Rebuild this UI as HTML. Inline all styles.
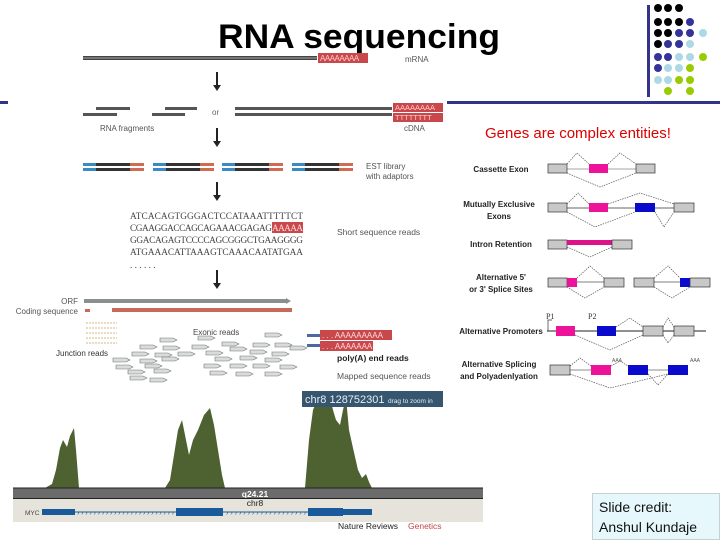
<!DOCTYPE html>
<html><head><meta charset="utf-8"><style>
html,body{margin:0;padding:0;background:#fff;}
svg{display:block;}
</style></head><body>
<svg width="720" height="540" viewBox="0 0 720 540" xmlns="http://www.w3.org/2000/svg" font-family="Liberation Sans, sans-serif">
<defs>
<g id="rd"><polygon points="0,0 13,0 17,2 13,4 0,4" fill="#d8dcdc" stroke="#777" stroke-width="0.6"/></g>
</defs>
<!-- header lines -->
<rect x="0" y="101" width="8" height="3" fill="#333388"/>
<rect x="447" y="101" width="273" height="3" fill="#333388"/>
<rect x="647" y="5" width="3" height="92" fill="#333388"/>
<!-- dots -->
<g>
<circle cx="658" cy="8" r="4" fill="#000"/><circle cx="668" cy="8" r="4" fill="#000"/><circle cx="679" cy="8" r="4" fill="#000"/>
<circle cx="658" cy="22" r="4" fill="#000"/><circle cx="668" cy="22" r="4" fill="#000"/><circle cx="679" cy="22" r="4" fill="#000"/><circle cx="690" cy="22" r="4" fill="#333399"/>
<circle cx="658" cy="33" r="4" fill="#000"/><circle cx="668" cy="33" r="4" fill="#000"/><circle cx="679" cy="33" r="4" fill="#333399"/><circle cx="690" cy="33" r="4" fill="#333399"/><circle cx="703" cy="33" r="4" fill="#add8e6"/>
<circle cx="658" cy="44" r="4" fill="#000"/><circle cx="668" cy="44" r="4" fill="#333399"/><circle cx="679" cy="44" r="4" fill="#333399"/><circle cx="690" cy="44" r="4" fill="#add8e6"/>
<circle cx="658" cy="57" r="4" fill="#333399"/><circle cx="668" cy="57" r="4" fill="#333399"/><circle cx="679" cy="57" r="4" fill="#add8e6"/><circle cx="690" cy="57" r="4" fill="#add8e6"/><circle cx="703" cy="57" r="4" fill="#99cc00"/>
<circle cx="658" cy="68" r="4" fill="#333399"/><circle cx="668" cy="68" r="4" fill="#add8e6"/><circle cx="679" cy="68" r="4" fill="#add8e6"/><circle cx="690" cy="68" r="4" fill="#99cc00"/>
<circle cx="658" cy="80" r="4" fill="#add8e6"/><circle cx="668" cy="80" r="4" fill="#add8e6"/><circle cx="679" cy="80" r="4" fill="#99cc00"/><circle cx="690" cy="80" r="4" fill="#99cc00"/>
<circle cx="668" cy="91" r="4" fill="#99cc00"/><circle cx="690" cy="91" r="4" fill="#99cc00"/>
</g>
<text x="218" y="48" font-size="34" font-weight="bold" fill="#000" textLength="282" lengthAdjust="spacingAndGlyphs">RNA sequencing</text>

<!-- mRNA -->
<rect x="83" y="56" width="234" height="4" fill="#444"/><rect x="83" y="57.5" width="234" height="1" fill="#aaa"/>
<rect x="318" y="53" width="50" height="10" fill="#c8484c"/>
<text x="320" y="61" font-size="8" fill="#fcc" letter-spacing="-0.5">AAAAAAAA</text>
<text x="405" y="62" font-size="8" fill="#555">mRNA</text>
<g fill="#222"><rect x="216" y="72" width="2" height="14"/><polygon points="213,85 221,85 217,91"/></g>
<!-- fragments -->
<g fill="#555">
<rect x="96" y="107" width="34" height="3"/><rect x="83" y="113" width="34" height="3"/>
<rect x="165" y="107" width="32" height="3"/><rect x="152" y="113" width="33" height="3"/>
<rect x="235" y="107" width="157" height="3"/><rect x="235" y="113" width="157" height="3"/>
</g>
<text x="212" y="115" font-size="8" fill="#666">or</text>
<rect x="393" y="103" width="50" height="9" fill="#c8484c"/><rect x="393" y="113" width="50" height="9" fill="#c8484c"/>
<text x="395" y="110" font-size="7.5" fill="#fcc">AAAAAAAA</text><text x="395" y="120" font-size="7.5" fill="#fcc">TTTTTTTT</text>
<text x="100" y="131" font-size="8" fill="#555">RNA fragments</text>
<text x="404" y="131" font-size="8" fill="#555">cDNA</text>
<g fill="#222"><rect x="216" y="128" width="2" height="14"/><polygon points="213,141 221,141 217,147"/></g>
<!-- EST -->
<g>
<g transform="translate(83,0)"><rect x="0" y="163" width="13" height="3" fill="#3a8ac4"/><rect x="0" y="168" width="13" height="3" fill="#3a8ac4"/><rect x="13" y="163" width="34" height="3" fill="#333"/><rect x="13" y="168" width="34" height="3" fill="#333"/><rect x="47" y="163" width="14" height="3" fill="#d06a50"/><rect x="47" y="168" width="14" height="3" fill="#d06a50"/></g>
<g transform="translate(153,0)"><rect x="0" y="163" width="13" height="3" fill="#3a8ac4"/><rect x="0" y="168" width="13" height="3" fill="#3a8ac4"/><rect x="13" y="163" width="34" height="3" fill="#333"/><rect x="13" y="168" width="34" height="3" fill="#333"/><rect x="47" y="163" width="14" height="3" fill="#d06a50"/><rect x="47" y="168" width="14" height="3" fill="#d06a50"/></g>
<g transform="translate(222,0)"><rect x="0" y="163" width="13" height="3" fill="#3a8ac4"/><rect x="0" y="168" width="13" height="3" fill="#3a8ac4"/><rect x="13" y="163" width="34" height="3" fill="#333"/><rect x="13" y="168" width="34" height="3" fill="#333"/><rect x="47" y="163" width="14" height="3" fill="#d06a50"/><rect x="47" y="168" width="14" height="3" fill="#d06a50"/></g>
<g transform="translate(292,0)"><rect x="0" y="163" width="13" height="3" fill="#3a8ac4"/><rect x="0" y="168" width="13" height="3" fill="#3a8ac4"/><rect x="13" y="163" width="34" height="3" fill="#333"/><rect x="13" y="168" width="34" height="3" fill="#333"/><rect x="47" y="163" width="14" height="3" fill="#d06a50"/><rect x="47" y="168" width="14" height="3" fill="#d06a50"/></g>
</g>
<text x="366" y="169" font-size="8" fill="#555">EST library</text>
<text x="366" y="179" font-size="8" fill="#555">with adaptors</text>
<g fill="#222"><rect x="216" y="182" width="2" height="14"/><polygon points="213,195 221,195 217,201"/></g>
<!-- sequences -->
<rect x="272" y="222" width="31" height="11" fill="#c8484c"/>
<g font-family="Liberation Serif, serif" font-size="9.3" fill="#444">
<text x="130" y="219" textLength="173">ATCACAGTGGGACTCCATAAATTTTTCT</text>
<text x="130" y="231" textLength="142">CGAAGGACCAGCAGAAACGAGAG</text>
<text x="272" y="231" fill="#fdd" textLength="31">AAAAA</text>
<text x="130" y="243" textLength="173">GGACAGAGTCCCCAGCGGGCTGAAGGGG</text>
<text x="130" y="255" textLength="173">ATGAAACATTAAAGTCAAACAATATGAA</text>
<text x="130" y="268">. . . . . .</text>
</g>
<text x="337" y="235" font-size="8.5" fill="#555">Short sequence reads</text>
<g fill="#222"><rect x="216" y="270" width="2" height="14"/><polygon points="213,283 221,283 217,289"/></g>
<!-- ORF -->
<rect x="84" y="299" width="204" height="4" fill="#8a9090"/><polygon points="286,298 291,301 286,304" fill="#8a9090"/>
<rect x="85" y="309" width="5" height="3" fill="#c86a5a"/><rect x="112" y="308" width="180" height="4" fill="#c86a5a"/>
<text x="78" y="304" font-size="8" fill="#555" text-anchor="end">ORF</text>
<text x="78" y="314" font-size="8" fill="#555" text-anchor="end">Coding sequence</text>
<!-- junction -->
<g stroke="#c8a060" stroke-width="0.8" fill="none" stroke-dasharray="2,1">
<line x1="86" y1="323" x2="117" y2="323"/><line x1="86" y1="328" x2="117" y2="328"/><line x1="86" y1="333" x2="117" y2="333"/><line x1="86" y1="338" x2="117" y2="338"/><line x1="86" y1="343" x2="117" y2="343"/>
</g>
<text x="56" y="356" font-size="8" fill="#333">Junction reads</text>
<text x="193" y="335" font-size="8" fill="#444">Exonic reads</text>
<g>
<use href="#rd" x="160" y="338"/><use href="#rd" x="198" y="336"/><use href="#rd" x="265" y="333"/><use href="#rd" x="222" y="342"/><use href="#rd" x="253" y="343"/><use href="#rd" x="275" y="343"/>
<use href="#rd" x="140" y="345"/><use href="#rd" x="163" y="346"/><use href="#rd" x="192" y="345"/><use href="#rd" x="230" y="347"/><use href="#rd" x="290" y="346"/>
<use href="#rd" x="132" y="352"/><use href="#rd" x="155" y="353"/><use href="#rd" x="178" y="352"/><use href="#rd" x="206" y="351"/><use href="#rd" x="250" y="350"/><use href="#rd" x="272" y="352"/>
<use href="#rd" x="113" y="358"/><use href="#rd" x="140" y="359"/><use href="#rd" x="162" y="357"/><use href="#rd" x="215" y="357"/><use href="#rd" x="240" y="356"/><use href="#rd" x="265" y="358"/>
<use href="#rd" x="116" y="365"/><use href="#rd" x="145" y="364"/><use href="#rd" x="204" y="364"/><use href="#rd" x="230" y="364"/><use href="#rd" x="253" y="364"/><use href="#rd" x="280" y="365"/>
<use href="#rd" x="128" y="370"/><use href="#rd" x="154" y="369"/><use href="#rd" x="210" y="371"/><use href="#rd" x="236" y="372"/><use href="#rd" x="265" y="372"/>
<use href="#rd" x="130" y="376"/><use href="#rd" x="150" y="378"/>
</g>
<!-- polyA -->
<rect x="307" y="334" width="13" height="3" fill="#4a6aa0"/><rect x="307" y="344" width="13" height="3" fill="#4a6aa0"/>
<rect x="320" y="330" width="72" height="10" fill="#c8484c"/><rect x="320" y="341" width="53" height="10" fill="#c8484c"/>
<text x="322" y="338" font-size="8" fill="#fdd">. . . AAAAAAAAA</text><text x="322" y="349" font-size="8" fill="#fdd">. . . AAAAAAA</text>
<text x="337" y="361" font-size="8.5" fill="#222" font-weight="bold">poly(A) end reads</text>
<text x="337" y="379" font-size="8.5" fill="#555">Mapped sequence reads</text>
<!-- peaks -->
<path fill="#4e6130" d="M45,488 L52,484 L56,470 L60,448 L63,440 L67,447 L70,436 L74,428 L76,450 L79,488 Z
M165,488 L170,480 L174,455 L178,430 L182,420 L186,440 L189,455 L193,440 L198,430 L204,415 L210,408 L214,425 L218,450 L222,475 L225,488 Z
M305,488 L309,440 L313,410 L318,398 L322,394 L326,400 L329,393 L333,410 L336,420 L340,425 L343,410 L346,398 L349,430 L353,448 L358,470 L362,478 L366,474 L369,482 L372,488 Z"/>
<!-- chr box -->
<rect x="302" y="391" width="141" height="16" fill="#35566e"/>
<text x="305" y="403" font-size="11" fill="#e8eef4">chr8 128752301</text>
<text x="388" y="403" font-size="6.5" fill="#e8eef4">drag to zoom in</text>
<rect x="13" y="488" width="470" height="10" fill="#6b6b6b"/>
<rect x="13" y="487.5" width="470" height="1" fill="#222"/>
<text x="255" y="497" font-size="8.5" fill="#fff" font-weight="bold" text-anchor="middle">q24.21</text>
<rect x="13" y="498" width="470" height="24" fill="#e6e4da"/>
<rect x="13" y="498" width="470" height="1" fill="#222"/>
<text x="255" y="506" font-size="8.5" fill="#222" text-anchor="middle">chr8</text>
<text x="25" y="515" font-size="6.5" fill="#444">MYC</text>
<line x1="42" y1="512" x2="372" y2="512" stroke="#1a5a9a" stroke-width="1"/>
<rect x="42" y="509" width="33" height="6" fill="#1a5a9a"/>
<rect x="176" y="508" width="47" height="8" fill="#1a5a9a"/>
<rect x="308" y="508" width="35" height="8" fill="#1a5a9a"/><rect x="343" y="509" width="29" height="6" fill="#1a5a9a"/>
<text x="77" y="515" font-size="7" fill="#1a5a9a" textLength="97">&#8250;&#8250;&#8250;&#8250;&#8250;&#8250;&#8250;&#8250;&#8250;&#8250;&#8250;&#8250;&#8250;&#8250;&#8250;&#8250;&#8250;&#8250;&#8250;&#8250;&#8250;&#8250;&#8250;&#8250;</text>
<text x="226" y="515" font-size="7" fill="#1a5a9a" textLength="80">&#8250;&#8250;&#8250;&#8250;&#8250;&#8250;&#8250;&#8250;&#8250;&#8250;&#8250;&#8250;&#8250;&#8250;&#8250;&#8250;&#8250;&#8250;&#8250;</text>
<text x="338" y="529" font-size="8.5" fill="#222">Nature Reviews</text>
<text x="408" y="529" font-size="8.5" fill="#c0474a">Genetics</text>

<!-- right panel -->
<text x="485" y="138" font-size="15" fill="#dd0000">Genes are complex entities!</text>
<g font-size="8" font-weight="bold" fill="#222" text-anchor="middle">
<text x="501" y="172">Cassette Exon</text>
<text x="499" y="207">Mutually Exclusive</text><text x="499" y="219">Exons</text>
<text x="501" y="247">Intron Retention</text>
<text x="501" y="280">Alternative 5'</text><text x="501" y="292">or 3' Splice Sites</text>
<text x="501" y="334">Alternative Promoters</text>
<text x="499" y="367">Alternative Splicing</text><text x="499" y="379">and Polyadenlyation</text>
</g>
<g stroke="#555" stroke-width="0.7" fill="none">
<line x1="567" y1="169" x2="636" y2="169" stroke="#888"/>
<polyline points="567,164 577,153 589,164" stroke-dasharray="1.5,1"/><polyline points="608,164 620,153 636,164" stroke-dasharray="1.5,1"/><polyline points="567,173 600,187 636,173" stroke-dasharray="1.5,1"/>
<line x1="567" y1="208" x2="674" y2="208" stroke="#333"/>
<polyline points="567,204 578,193 589,204" stroke-dasharray="1.5,1"/><polyline points="608,204 640,193 674,204" stroke-dasharray="1.5,1"/><polyline points="567,212 595,227 635,212" stroke-dasharray="1.5,1"/><polyline points="655,212 664,227 674,212" stroke-dasharray="1.5,1"/>
<polyline points="567,247 590,257 612,247" stroke-dasharray="1.5,1"/>
<line x1="577" y1="282" x2="604" y2="282" stroke="#aaa" stroke-width="1.5"/><line x1="654" y1="282" x2="680" y2="282" stroke="#aaa" stroke-width="1.5"/>
<polyline points="577,278 590,266 604,278" stroke-dasharray="1.5,1"/><polyline points="567,287 585,298 604,287" stroke-dasharray="1.5,1"/>
<polyline points="654,278 668,266 680,278" stroke-dasharray="1.5,1"/><polyline points="654,287 672,298 690,287" stroke-dasharray="1.5,1"/>
<line x1="547" y1="331" x2="706" y2="331" stroke="#222" stroke-width="1"/>
<polyline points="548,331 548,320 552,320" stroke="#333"/>
<polyline points="616,327 630,318 643,327" stroke-dasharray="1.5,1"/><polyline points="663,327 668,318 674,327" stroke-dasharray="1.5,1"/><polyline points="575,335 610,350 643,335" stroke-dasharray="1.5,1"/><polyline points="663,335 668,343 674,335" stroke-dasharray="1.5,1"/>
<line x1="570" y1="370" x2="591" y2="370" stroke="#666"/><line x1="648" y1="370" x2="668" y2="370" stroke="#666"/>
<polyline points="570,366 580,358 591,366" stroke-dasharray="1.5,1"/><polyline points="611,366 620,361 628,366" stroke-dasharray="1.5,1"/><polyline points="570,374 610,388 668,374" stroke-dasharray="1.5,1"/><polyline points="648,374 658,385 668,374" stroke-dasharray="1.5,1"/>
</g>
<g stroke="#333" stroke-width="0.7">
<rect x="548" y="164" width="19" height="9" fill="#c8c8c8"/><rect x="636" y="164" width="19" height="9" fill="#c8c8c8"/><rect x="589" y="164" width="19" height="9" fill="#ee1199" stroke="none"/>
<rect x="548" y="203" width="19" height="9" fill="#c8c8c8"/><rect x="589" y="203" width="19" height="9" fill="#ee1199" stroke="none"/><rect x="635" y="203" width="20" height="9" fill="#0a0acc" stroke="none"/><rect x="674" y="203" width="20" height="9" fill="#c8c8c8"/>
<rect x="548" y="240" width="19" height="9" fill="#c8c8c8"/><rect x="567" y="240" width="45" height="5" fill="#dd1188" stroke="none"/><rect x="612" y="240" width="20" height="9" fill="#c8c8c8"/>
<rect x="548" y="278" width="19" height="9" fill="#c8c8c8"/><rect x="567" y="278" width="10" height="9" fill="#ee1199" stroke="none"/><rect x="604" y="278" width="20" height="9" fill="#c8c8c8"/>
<rect x="634" y="278" width="20" height="9" fill="#c8c8c8"/><rect x="680" y="278" width="10" height="9" fill="#0a0acc" stroke="none"/><rect x="690" y="278" width="20" height="9" fill="#c8c8c8"/>
<rect x="556" y="326" width="19" height="10" fill="#ee1199" stroke="none"/><rect x="597" y="326" width="19" height="10" fill="#0a0acc" stroke="none"/><rect x="643" y="326" width="20" height="10" fill="#c8c8c8"/><rect x="674" y="326" width="20" height="10" fill="#c8c8c8"/>
<rect x="550" y="365" width="20" height="10" fill="#c8c8c8"/><rect x="591" y="365" width="20" height="10" fill="#ee1199" stroke="none"/><rect x="628" y="365" width="20" height="10" fill="#0a0acc" stroke="none"/><rect x="668" y="365" width="20" height="10" fill="#0a0acc" stroke="none"/>
</g>
<text x="546" y="319" font-size="8" font-family="Liberation Serif, serif" fill="#333">P1</text>
<text x="588" y="319" font-size="8" font-family="Liberation Serif, serif" fill="#333">P2</text>
<text x="612" y="362" font-size="5" fill="#555">AAA</text><text x="690" y="362" font-size="5" fill="#555">AAA</text>

<!-- credit -->
<rect x="592.5" y="493.5" width="127" height="46" fill="#e6f8fc" stroke="#c8d0d0"/>
<text x="599" y="512" font-size="14" fill="#111">Slide credit:</text>
<text x="599" y="532" font-size="14" fill="#111">Anshul Kundaje</text>
</svg>
</body></html>
